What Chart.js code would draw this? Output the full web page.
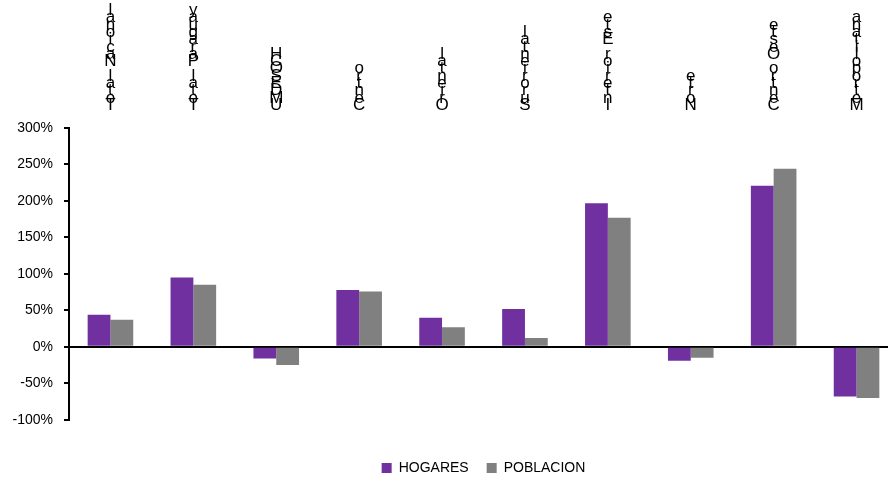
<!DOCTYPE html>
<html>
<head>
<meta charset="utf-8">
<script src="https://cdn.jsdelivr.net/npm/chart.js@4/dist/chart.umd.min.js"></script>
<style>
  html, body { margin: 0; padding: 0; background: #fff; overflow: hidden; }
  #wrap { width: 898px; height: 485px; position: relative; }
</style>
</head>
<body>
<div id="wrap"><canvas id="chart"></canvas></div>
<script>
const REGIONS = [
  "Total Nacional", "Total Paraguay", "UMDESOCH", "Centro", "Oriental",
  "Suroriental", "Interior Este", "Norte", "Centro Oeste", "Metropolitana"
];
const HOGARES = [44, 95, -16, 78, 40, 52, 197, -19, 221, -68];
const POBLACION = [37, 85, -25, 76, 27, 12, 177, -15, 244, -70];
const Y_MIN = -100;
const Y_MAX = 300;
const Y_STEP = 50;

// glyphs stacked upright, first letter at the bottom (as in the original)
const stackedLabels = REGIONS.map(name => name.split("").reverse());

const ctx = document.getElementById("chart").getContext("2d");

new Chart(ctx, {
  type: "bar",
  data: {
    labels: stackedLabels,
    datasets: [
      {
        label: "HOGARES",
        data: HOGARES,
        backgroundColor: "#7030A0",
        categoryPercentage: 0.55,
        barPercentage: 1.0
      },
      {
        label: "POBLACION",
        data: POBLACION,
        backgroundColor: "#808080",
        categoryPercentage: 0.55,
        barPercentage: 1.0
      }
    ]
  },
  options: {
    responsive: true,
    maintainAspectRatio: false,
    animation: false,
    layout: { padding: 0 },
    plugins: {
      tooltip: { enabled: false },
      legend: {
        position: "bottom",
        fullSize: false,
        title: {
          display: true,
          text: " ",
          font: { size: 1 },
          padding: { top: 22, bottom: 0 }
        },
        labels: {
          boxWidth: 10,
          boxHeight: 10,
          padding: 18,
          color: "#000",
          font: { family: "'Liberation Sans', Arial, sans-serif", size: 14 }
        }
      }
    },
    scales: {
      x: {
        position: "top",
        border: { display: false },
        grid: { display: false, drawTicks: false },
        afterFit: scale => { scale.height = 128; },
        ticks: {
          autoSkip: false,
          maxRotation: 0,
          minRotation: 0,
          padding: 19,
          color: "#000",
          font: {
            family: "'Liberation Sans Narrow', 'Arial Narrow', 'Liberation Sans', sans-serif",
            size: 17,
            lineHeight: 0.43
          }
        }
      },
      y: {
        min: Y_MIN,
        max: Y_MAX,
        afterFit: scale => { scale.width = 69; },
        border: { display: true, color: "#000", width: 2 },
        grid: {
          drawOnChartArea: true,
          color: c => (c.tick && c.tick.value === 0 ? "#000" : "rgba(0,0,0,0)"),
          lineWidth: 2,
          tickColor: "#000",
          tickLength: 5
        },
        ticks: {
          stepSize: Y_STEP,
          padding: 11,
          color: "#000",
          font: { family: "'Liberation Sans', Arial, sans-serif", size: 14 },
          callback: v => v + "%"
        }
      }
    }
  }
});
</script>
</body>
</html>
